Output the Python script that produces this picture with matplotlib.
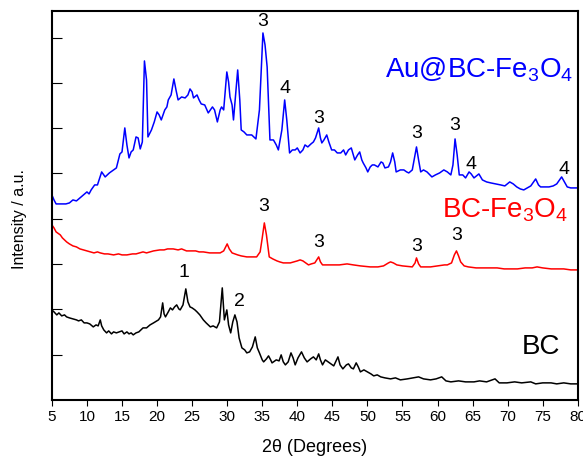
import matplotlib
matplotlib.use("Agg")
import matplotlib.pyplot as plt
import numpy as np

plt.rcParams['font.family'] = ['Liberation Sans', 'DejaVu Sans']
plt.rcParams['mathtext.fontset'] = 'custom'
plt.rcParams['mathtext.rm'] = 'Liberation Sans'
plt.rcParams['mathtext.it'] = 'Liberation Sans'

# Au@BC-Fe3O4 (blue)
au_x = [5.0, 5.3, 5.6, 6.0, 6.5, 7.0, 7.5, 8.0, 8.5, 9.0, 9.5, 10.0, 10.3, 10.6, 11.1, 11.5,
        12.1, 12.6, 13.2, 13.8, 14.2, 14.7, 15.0, 15.4, 15.7, 16.0, 16.3, 16.6, 17.0, 17.3, 17.6,
        17.9, 18.2, 18.5, 18.7, 19.2, 19.6, 20.0, 20.3, 20.6, 21.1, 21.4, 21.6, 22.0, 22.4, 22.7,
        23.0, 23.5, 24.0, 24.4, 24.7, 25.0, 25.2, 25.7, 26.0, 26.3, 26.8, 27.3, 27.9, 28.2, 28.6,
        29.0, 29.2, 29.5, 29.95, 30.2, 30.4, 30.7, 30.9, 31.2, 31.5, 31.8, 32.0, 32.4, 32.8, 33.2,
        33.5, 34.1, 34.6, 35.1, 35.4, 35.7, 36.1, 36.6, 37.0, 37.3, 37.8, 38.2, 38.5, 38.9, 39.3,
        39.7, 40.0, 40.4, 40.8, 41.1, 41.5, 41.95, 42.3, 42.6, 43.05, 43.3, 43.5, 43.8, 44.2, 44.5,
        44.9, 45.3, 45.7, 46.2, 46.6, 46.9, 47.3, 47.7, 48.0, 48.2, 48.6, 48.9, 49.2, 49.4, 49.8,
        50.05, 50.4, 50.7, 51.0, 51.5, 51.95, 52.2, 52.5, 53.0, 53.3, 53.6, 53.9, 54.1, 54.7, 55.2,
        55.6, 55.9, 56.4, 57.0, 57.3, 57.6, 58.0, 58.5, 59.2, 59.7, 60.3, 60.9, 61.4, 61.9, 62.2,
        62.5, 62.8, 63.1, 63.6, 64.0, 64.5, 64.8, 65.2, 65.9, 66.4, 67.0, 67.6, 68.3, 69.0, 69.6,
        70.3, 70.8, 71.3, 71.8, 72.3, 72.8, 73.3, 74.0, 74.4, 74.7, 75.3, 75.9, 76.5, 77.0, 77.7,
        78.1, 78.5, 79.0, 79.7, 80.0]
au_y = [205, 200, 196, 196, 196, 196, 197, 200, 199, 202, 205, 208, 206, 210, 215, 215,
        228, 223, 227, 230, 232, 246, 248, 272, 255, 242, 248, 250, 263, 262, 251,
        258, 339, 320, 263, 270, 278, 288, 285, 280, 290, 293, 300, 305, 321, 310,
        300, 303, 302, 305, 311, 308, 302, 305, 300, 296, 295, 287, 293, 290, 278,
        290, 293, 290, 328, 318, 303, 295, 280, 305, 330, 300, 270, 268, 265, 265,
        265, 261, 290, 367, 355, 333, 260, 260, 255, 250, 270, 300, 280, 247, 250,
        250, 252, 247, 250, 255, 253, 256, 258, 262, 272, 262, 257, 260, 265, 258,
        250, 250, 247, 247, 250, 245, 250, 252, 245, 240, 245, 248, 240, 237, 232,
        228, 233, 235, 235, 233, 238, 237, 232, 233, 238, 247, 238, 228, 230, 230,
        228, 227, 230, 253, 240, 228, 230, 228, 223, 225, 227, 230, 228, 225, 235,
        261, 245, 225, 225, 222, 228, 226, 222, 226, 220, 218, 217, 216, 215, 214,
        218, 216, 213, 211, 210, 212, 214, 221, 215, 213, 213, 213, 214, 216, 223,
        218, 213, 212, 212, 212]

# BC-Fe3O4 (red)
fe_x = [5.0, 5.3, 5.6, 6.0, 6.2, 6.5, 6.8, 7.1, 7.5, 8.0, 8.5, 9.0, 9.5, 10.0, 10.5, 11.0,
        11.5, 11.9, 12.5, 13.0, 13.8, 14.5, 15.0, 15.7, 16.5, 17.0, 17.5, 18.0, 18.5, 19.0,
        19.5, 20.4, 21.0, 21.5, 22.3, 23.0, 23.5, 24.2, 25.0, 25.5, 26.0, 26.6, 27.5, 28.5,
        29.0, 29.5, 30.0, 30.3, 30.7, 31.5, 32.0, 32.8, 33.5, 34.2, 34.7, 35.0, 35.3, 35.6,
        36.0, 36.5, 37.1, 37.5, 38.0, 38.5, 39.0, 39.5, 40.0, 40.4, 40.8, 41.2, 41.6, 42.0,
        42.5, 43.05, 43.3, 43.6, 44.2, 45.0, 46.0, 47.1, 48.0, 49.0, 50.4, 51.5, 52.3, 53.0,
        53.3, 53.7, 54.2, 55.0, 56.4, 56.8, 57.0, 57.3, 57.6, 58.3, 59.0, 60.0, 61.0, 61.4,
        62.0, 62.4, 62.7, 63.0, 63.3, 63.8, 64.4, 65.5, 66.5, 67.6, 68.5, 69.5, 70.5, 71.4,
        72.5, 73.5, 74.2, 75.0, 76.2, 77.0, 78.0, 79.0, 79.7, 80.0]
fe_y = [175, 172, 168, 166, 165, 162, 160, 158, 156, 154, 153, 151, 150, 149, 148, 147,
        148, 147, 146, 146, 145, 146, 145, 145, 146, 146, 147, 148, 147, 148,
        149, 150, 150, 151, 151, 150, 151, 149, 149, 149, 148, 148, 147, 147,
        147, 149, 156, 151, 147, 145, 144, 143, 143, 143, 148, 162, 177, 165,
        143, 141, 139, 138, 137, 137, 137, 138, 139, 140, 139, 137, 135, 136,
        137, 143, 138, 135, 135, 135, 135, 136, 135, 134, 133, 133, 134, 137,
        138, 137, 135, 134, 133, 137, 142, 136, 133, 133, 133, 134, 135, 135,
        137, 145, 149, 144, 138, 134, 133, 132, 132, 132, 132, 131, 131, 131,
        132, 132, 133, 132, 131, 131, 131, 130, 130, 130]

# BC (black)
bc_x = [5.0, 5.3, 5.7, 6.0, 6.4, 6.8, 7.1, 7.5, 8.0, 8.5, 8.8, 9.2, 9.6, 10.0, 10.4, 10.9,
        11.3, 11.6, 11.9, 12.1, 12.4, 12.8, 13.1, 13.5, 13.8, 14.2, 14.6, 15.0, 15.3, 15.7,
        16.0, 16.3, 16.6, 17.0, 17.4, 18.0, 18.5, 19.0, 19.5, 20.2, 20.5, 20.8, 21.0, 21.2,
        21.6, 21.9, 22.2, 22.5, 22.8, 23.1, 23.3, 23.7, 24.1, 24.4, 24.7, 25.0, 25.4, 25.7,
        26.1, 26.6, 27.0, 27.6, 28.0, 28.5, 28.9, 29.3, 29.6, 29.95, 30.2, 30.5, 30.8, 31.1,
        31.4, 31.7, 32.1, 32.5, 32.8, 33.2, 33.6, 34.0, 34.3, 34.6, 35.0, 35.2, 35.6, 35.9,
        36.2, 36.4, 37.0, 37.4, 37.7, 38.0, 38.3, 38.7, 39.1, 39.4, 39.7, 40.1, 40.6, 41.0,
        41.4, 41.9, 42.3, 42.7, 43.05, 43.3, 43.6, 44.0, 44.4, 44.8, 45.2, 45.8, 46.1, 46.5,
        47.0, 47.3, 47.7, 48.0, 48.4, 48.7, 49.0, 49.5, 50.0, 50.5, 50.9, 51.4, 51.9, 52.5,
        53.3, 54.0, 54.7, 55.7, 56.5, 57.3, 58.0, 59.0, 59.8, 60.6, 61.2, 61.9, 63.0, 64.0,
        65.2, 66.0, 67.0, 68.2, 68.8, 69.9, 71.0, 72.0, 73.3, 74.0, 75.0, 76.2, 77.0, 78.0,
        79.0, 79.7, 80.0]
bc_y = [90, 88, 85, 87, 84, 85, 83, 82, 81, 80, 79, 80, 77, 77, 76, 73,
        75, 74, 80, 74, 70, 67, 69, 66, 68, 67, 68, 69, 66, 68,
        66, 67, 65, 67, 68, 72, 72, 75, 77, 80, 83, 97, 86, 83,
        88, 92, 90, 93, 95, 91, 90, 95, 111, 98, 93, 92, 90, 88,
        85, 80, 77, 73, 74, 72, 78, 112, 80, 90, 75, 67, 78, 85,
        78, 62, 52, 50, 47, 48, 53, 63, 52, 47, 40, 38, 41, 44,
        40, 37, 40, 39, 45, 38, 35, 38, 47, 42, 35, 42, 48, 42,
        38, 41, 43, 40, 46, 40, 35, 40, 38, 36, 34, 43, 35, 31,
        35, 36, 32, 31, 37, 33, 28, 30, 28, 26, 24, 25, 23, 22,
        21, 22, 20, 21, 22, 23, 21, 20, 21, 23, 19, 18, 19, 18,
        18, 19, 18, 21, 17, 17, 18, 17, 18, 16, 17, 17, 16, 17,
        16, 16, 16]

# peak labels: (2theta, height, text)
peak_labels = [(35.1, 378, "3"), (38.2, 311, "4"), (43.1, 281, "3"), (57.0, 266, "3"),
               (62.5, 274, "3"), (64.8, 235, "4"), (78.0, 230, "4"),
               (35.2, 193, "3"), (43.1, 157, "3"), (57.0, 153, "3"), (62.7, 164, "3"),
               (23.9, 127, "1"), (31.7, 98, "2")]

fig = plt.figure(figsize=(5.83, 4.57), dpi=100)
ax = fig.add_axes([0.089, 0.125, 0.902, 0.851])

ax.plot(au_x, au_y, color='#0000ff', lw=1.1)
ax.plot(fe_x, fe_y, color='#ff0000', lw=1.1)
ax.plot(bc_x, bc_y, color='black', lw=1.1)

for x, y, t in peak_labels:
    ax.text(x, y, t, ha='center', va='center', fontsize=14, color='black')

ax.text(79.3, 330, "Au@BC-Fe$_3$O$_4$", ha='right', va='center', fontsize=20, color='#0000ff')
ax.text(78.7, 190, "BC-Fe$_3$O$_4$", ha='right', va='center', fontsize=20, color='#ff0000')
ax.text(77.5, 53, "BC", ha='right', va='center', fontsize=20, color='black')

ax.set_xlim(5, 80)
ax.set_ylim(0, 389)
ax.set_xticks(np.arange(5, 81, 5))
ax.set_yticks([45.3 * k for k in range(1, 9)])
ax.set_yticklabels([])
ax.tick_params(axis='x', direction='out', length=4, labelsize=11)
ax.tick_params(axis='y', direction='in', length=7)
for s in ax.spines.values():
    s.set_linewidth(1.5)

ax.set_xlabel("2θ (Degrees)", fontsize=13)
ax.xaxis.set_label_coords(0.5, -0.100)
ax.set_ylabel("Intensity / a.u.", fontsize=11.5)
ax.yaxis.set_label_coords(-0.048, 0.465)

fig.savefig("out.png", dpi=100)
